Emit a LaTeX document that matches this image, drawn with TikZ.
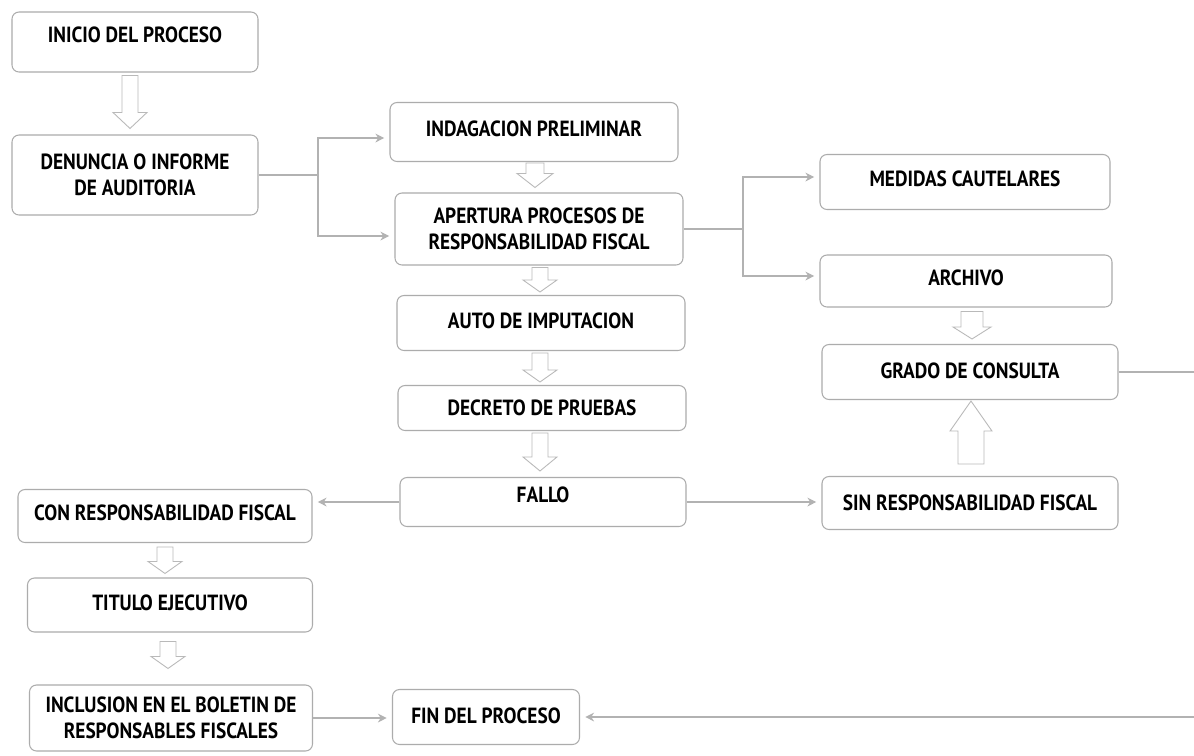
\documentclass[tikz,border=0pt]{standalone}
\usepackage{fontspec}
\newfontfamily\boxfont[FakeStretch=0.88]{PT Sans}
\usetikzlibrary{calc,arrows.meta}
% #1 x, #2 from anchor, #3 to anchor, #4 start gap, #5 tip gap, #6 signed head length, #7 shaft half width, #8 head half width
\newcommand\blkarrow[8]{%
  \coordinate (ba-s) at ($(#1,0 |- #2)+(0,#4)$);
  \coordinate (ba-t) at ($(#1,0 |- #3)+(0,#5)$);
  \draw[blockarr] ($(ba-s)+(-#7,0)$) -- ($(ba-t)+(-#7,#6)$) -- ($(ba-t)+(-#8,#6)$) -- (ba-t)
     -- ($(ba-t)+(#8,#6)$) -- ($(ba-t)+(#7,#6)$) -- ($(ba-s)+(#7,0)$) -- cycle;}
\begin{document}
\begin{tikzpicture}[x=0.02cm,y=-0.02cm,
  box/.style={draw=gray!65, line width=0.6pt, rounded corners=4pt, align=center, inner sep=2pt,
    font=\boxfont\bfseries\fontsize{12.5}{15}\selectfont},
  up/.style={text depth=#1},
  sz/.style 2 args={minimum width=#1*0.02cm, minimum height=#2*0.02cm},
  conn/.style={draw=gray!60, line width=0.6pt},
  arr/.style={conn, -{Stealth[length=5pt,width=5pt]}, shorten >=3pt},
  blockarr/.style={draw=gray!55, line width=0.5pt, fill=white, line join=miter}]
\path[use as bounding box, fill=white] (0,0) rectangle (1194,755);

\node[box,sz={246}{60},up=8pt] (inicio) at (135,42) {INICIO DEL PROCESO};
\node[box,sz={246}{80}] (denuncia) at (135,175) {DENUNCIA O INFORME\\DE AUDITORIA};
\node[box,sz={288}{59},up=4pt] (indag) at (534,132) {INDAGACION PRELIMINAR};
\node[box,sz={288}{72}] (apertura) at (539,229) {APERTURA PROCESOS DE\\RESPONSABILIDAD FISCAL};
\node[box,sz={288}{55},up=3pt] (auto) at (541,323) {AUTO DE IMPUTACION};
\node[box,sz={288}{45}] (decreto) at (542,408) {DECRETO DE PRUEBAS};
\node[box,sz={286}{49},up=8pt] (fallo) at (543,502) {FALLO};
\node[box,sz={290}{55},up=4pt] (medidas) at (965,182) {MEDIDAS CAUTELARES};
\node[box,sz={292}{52},up=4pt] (archivo) at (966,281) {ARCHIVO};
\node[box,sz={296}{55},up=2pt] (grado) at (970,372) {GRADO DE CONSULTA};
\node[box,sz={296}{53}] (sin) at (970,503) {SIN RESPONSABILIDAD FISCAL};
\node[box,sz={294}{53},up=4pt] (con) at (165,516) {CON RESPONSABILIDAD FISCAL};
\node[box,sz={285}{54},up=3pt] (titulo) at (170,605) {TITULO EJECUTIVO};
\node[box,sz={283}{66}] (inclusion) at (171,718) {INCLUSION EN EL BOLETIN DE\\RESPONSABLES FISCALES};
\node[box,sz={187}{55},up=2pt] (fin) at (486,717) {FIN DEL PROCESO};

% bracket connectors
\coordinate (b1) at (318,0 |- denuncia.east);
\draw[conn] (denuncia.east) -- (b1);
\draw[arr] (b1) |- ($(indag.west)+(0,6)$);
\draw[arr] (b1) |- ($(apertura.west)+(0,7)$);
\coordinate (b2) at (743,0 |- apertura.east);
\draw[conn] (apertura.east) -- (b2);
\draw[arr] (b2) |- ($(medidas.west)+(0,-5)$);
\draw[arr] (b2) |- ($(archivo.west)+(0,-5)$);

% straight connectors
\draw[arr] (fallo.west) -- (fallo.west -| con.east);
\draw[arr] (fallo.east) -- (fallo.east -| sin.west);
\draw[arr] (inclusion.east) -- (inclusion.east -| fin.west);
\draw[arr] (grado.east) -- (1200,0 |- grado.east) |- (fin.east);

% block arrows
\blkarrow{130}{inicio.south}{denuncia.north}{3}{-6}{-16}{8}{17}
\blkarrow{535}{indag.south}{apertura.north}{1}{-5}{-14}{9}{18}
\blkarrow{540}{apertura.south}{auto.north}{2}{-3}{-12}{8}{17}
\blkarrow{540}{auto.south}{decreto.north}{2}{-3}{-12}{8}{17}
\blkarrow{540}{decreto.south}{fallo.north}{2}{-6}{-14}{8}{17}
\blkarrow{972}{archivo.south}{grado.north}{4}{-5}{-12}{11}{19}
\blkarrow{971}{sin.north}{grado.south}{-12}{1}{30}{13}{21}
\blkarrow{165}{con.south}{titulo.north}{4}{-4}{-12}{8}{17}
\blkarrow{168}{titulo.south}{inclusion.north}{9}{-16}{-12}{8}{17}
\end{tikzpicture}
\end{document}
